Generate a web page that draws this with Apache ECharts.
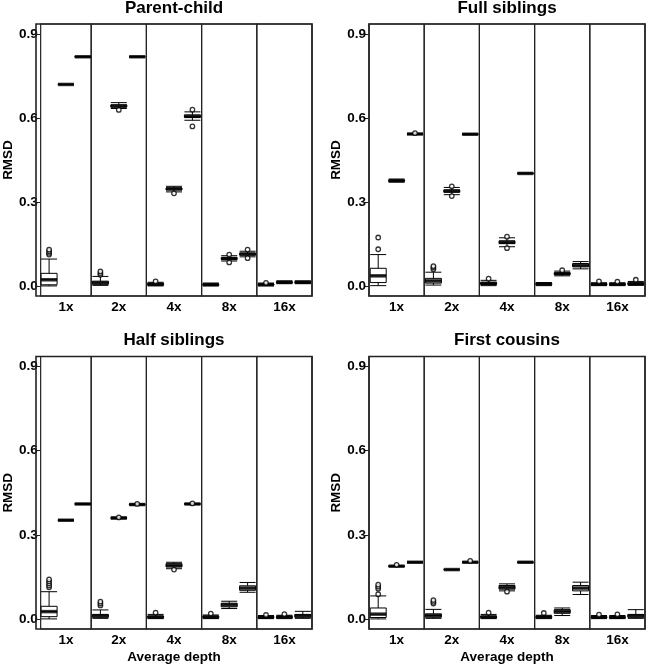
<!DOCTYPE html>
<html>
<head>
<meta charset="utf-8">
<script src="https://cdn.jsdelivr.net/npm/echarts@6/dist/echarts.min.js"></script>
<style>html,body{margin:0;padding:0;background:#fff}#chart{width:646px;height:666px}</style>
</head>
<body>
<div id="chart"></div>
<script>
const depths = ['1x', '2x', '4x', '8x', '16x'];
const methods = ['M1', 'M2', 'M3'];
const yTicks = [0, 0.3, 0.6, 0.9];
const panelTitles = ['Parent-child', 'Full siblings', 'Half siblings', 'First cousins'];
const xAxisTitle = 'Average depth';
const yAxisTitle = 'RMSD';

// box stats per depth, per method: [min, Q1, median, Q3, max]
const parentChildBoxes = [
  [[0.000,0.004,0.022,0.045,0.096],[0.719,0.720,0.720,0.720,0.721],[0.818,0.819,0.819,0.819,0.820]],
  [[0.002,0.006,0.011,0.017,0.034],[0.634,0.639,0.643,0.647,0.655],[0.818,0.819,0.819,0.819,0.820]],
  [[0.000,0.003,0.006,0.009,0.013],[0.336,0.343,0.347,0.350,0.356],[0.592,0.602,0.606,0.611,0.622]],
  [[0.000,0.002,0.005,0.007,0.010],[0.089,0.095,0.098,0.101,0.108],[0.104,0.110,0.114,0.117,0.124]],
  [[0.000,0.003,0.005,0.007,0.010],[0.008,0.011,0.013,0.015,0.018],[0.008,0.011,0.013,0.015,0.018]]
];
const parentChildOutliers = [
  [[0.112,0.118,0.124,0.130],[],[]],
  [[0.040,0.046,0.052],[0.629],[]],
  [[0.016],[0.331],[0.630,0.570]],
  [[],[0.084,0.112],[0.099,0.130]],
  [[0.011],[],[]]
];

const fullSibBoxes = [
  [[0.001,0.012,0.036,0.063,0.112],[0.371,0.374,0.376,0.378,0.382],[0.541,0.542,0.543,0.543,0.544]],
  [[0.003,0.010,0.018,0.027,0.049],[0.326,0.335,0.339,0.343,0.352],[0.541,0.542,0.542,0.543,0.543]],
  [[0.001,0.005,0.009,0.013,0.020],[0.140,0.151,0.156,0.161,0.172],[0.401,0.402,0.402,0.403,0.403]],
  [[0.001,0.004,0.007,0.009,0.012],[0.036,0.041,0.044,0.047,0.053],[0.061,0.068,0.074,0.080,0.087]],
  [[0.001,0.004,0.006,0.008,0.011],[0.001,0.004,0.006,0.008,0.011],[0.002,0.005,0.008,0.011,0.016]]
];
const fullSibOutliers = [
  [[0.131,0.173],[],[0.546]],
  [[0.060,0.066,0.071],[0.321,0.356],[]],
  [[0.026],[0.135,0.176],[]],
  [[],[0.056],[]],
  [[0.016],[0.015],[0.022]]
];

const halfSibBoxes = [
  [[0.000,0.008,0.026,0.045,0.097],[0.351,0.352,0.352,0.352,0.353],[0.409,0.410,0.410,0.410,0.411]],
  [[0.002,0.006,0.011,0.016,0.032],[0.357,0.359,0.360,0.361,0.363],[0.406,0.407,0.408,0.409,0.410]],
  [[0.001,0.004,0.007,0.010,0.016],[0.179,0.185,0.191,0.197,0.202],[0.409,0.410,0.410,0.410,0.411]],
  [[0.001,0.004,0.007,0.010,0.014],[0.037,0.043,0.050,0.056,0.063],[0.095,0.102,0.110,0.118,0.130]],
  [[0.001,0.004,0.006,0.008,0.012],[0.001,0.004,0.007,0.009,0.013],[0.002,0.006,0.011,0.016,0.027]]
];
const halfSibOutliers = [
  [[0.113,0.120,0.127,0.134,0.141],[],[]],
  [[0.048,0.055,0.062],[0.362],[0.410]],
  [[0.022],[0.176],[0.412]],
  [[0.019],[],[]],
  [[0.014],[0.017],[]]
];

const firstCousinBoxes = [
  [[0.000,0.005,0.017,0.039,0.082],[0.187,0.188,0.188,0.188,0.189],[0.201,0.202,0.202,0.202,0.203]],
  [[0.002,0.006,0.012,0.018,0.034],[0.175,0.176,0.176,0.176,0.177],[0.201,0.202,0.202,0.202,0.203]],
  [[0.001,0.004,0.007,0.010,0.016],[0.100,0.106,0.113,0.119,0.125],[0.201,0.202,0.202,0.202,0.203]],
  [[0.001,0.004,0.007,0.009,0.013],[0.012,0.020,0.027,0.033,0.039],[0.087,0.100,0.110,0.119,0.131]],
  [[0.001,0.004,0.006,0.008,0.012],[0.001,0.004,0.006,0.008,0.012],[0.002,0.006,0.011,0.016,0.033]]
];
const firstCousinOutliers = [
  [[0.088,0.108,0.115,0.122],[0.193],[]],
  [[0.055,0.061,0.067],[],[0.207]],
  [[0.022],[0.097],[]],
  [[0.021],[],[]],
  [[0.015],[0.016],[]]
];

const allBoxes = [parentChildBoxes, fullSibBoxes, halfSibBoxes, firstCousinBoxes];
const allOutliers = [parentChildOutliers, fullSibOutliers, halfSibOutliers, firstCousinOutliers];

// layout
const FONT = '"Liberation Sans", Arial, Helvetica, sans-serif';
const panels = [
  { left: 36, top: 24, height: 272, bottomAxisTitle: false },
  { left: 369, top: 24, height: 272, bottomAxisTitle: false },
  { left: 36, top: 356.5, height: 272.5, bottomAxisTitle: true },
  { left: 369, top: 356.5, height: 272.5, bottomAxisTitle: true }
];
const PANEL_W = 276;
const SUB_W = PANEL_W / depths.length;
const Y_MIN = -0.036, Y_MAX = 0.936;

const grids = [], xAxes = [], yAxes = [], series = [], graphics = [];
panels.forEach((p, pi) => {
  depths.forEach((d, di) => {
    const k = grids.length;
    grids.push({
      left: p.left + di * SUB_W, top: p.top, width: SUB_W, height: p.height,
      show: true, borderColor: '#222', borderWidth: 1.2, backgroundColor: 'transparent'
    });
    xAxes.push({
      gridIndex: k, type: 'category', data: methods, boundaryGap: true,
      axisLine: { show: false }, axisTick: { show: false }, axisLabel: { show: false },
      splitLine: { show: false },
      name: d, nameLocation: 'middle', nameGap: 4,
      nameTextStyle: { fontFamily: FONT, fontWeight: 'bold', fontSize: 13.5, color: '#000', verticalAlign: 'top' }
    });
    const first = di === 0;
    yAxes.push({
      gridIndex: k, type: 'value', min: Y_MIN, max: Y_MAX,
      splitLine: { show: false },
      axisLine: { show: false },
      axisTick: { show: first, length: 4, inside: false, customValues: yTicks, lineStyle: { color: '#222', width: 1 } },
      axisLabel: { show: first, customValues: yTicks, margin: 3, formatter: v => v.toFixed(1),
        fontFamily: FONT, fontWeight: 'bold', fontSize: 13.5, color: '#000' },
      name: first ? yAxisTitle : '', nameLocation: 'middle', nameRotate: 90, nameGap: 24,
      nameTextStyle: { fontFamily: FONT, fontWeight: 'bold', fontSize: 13.5, color: '#000' }
    });
    const boxes = allBoxes[pi][di];
    series.push({
      type: 'boxplot', xAxisIndex: k, yAxisIndex: k, boxWidth: [16, 16],
      itemStyle: { color: '#fff', borderColor: '#000', borderWidth: 1 },
      emphasis: { disabled: true }, silent: true, animation: false,
      data: boxes
    });
    series.push({
      type: 'scatter', xAxisIndex: k, yAxisIndex: k, symbol: 'rect', symbolSize: [16, 3.5],
      itemStyle: { color: '#000' }, silent: true, animation: false, z: 3,
      data: boxes.map((b, mi) => [mi, b[2]])
    });
    const outs = [];
    allOutliers[pi][di].forEach((arr, mi) => arr.forEach(v => outs.push([mi, v])));
    series.push({
      type: 'scatter', xAxisIndex: k, yAxisIndex: k, symbol: 'circle', symbolSize: 4.5,
      itemStyle: { color: '#fff', borderColor: '#000', borderWidth: 1.3 },
      silent: true, animation: false, z: 4,
      data: outs
    });
  });
  // outer panel frame
  graphics.push({
    type: 'rect', shape: { x: p.left, y: p.top, width: PANEL_W, height: p.height },
    style: { fill: 'none', stroke: '#222', lineWidth: 1.6 }, silent: true, z: 10
  });
  graphics.push({
    type: 'text', x: p.left + PANEL_W / 2, y: p.top - 16,
    style: { text: panelTitles[pi], font: 'bold 17px ' + FONT, fill: '#000', textAlign: 'center', textVerticalAlign: 'middle' }
  });
  if (p.bottomAxisTitle) {
    graphics.push({
      type: 'text', x: p.left + PANEL_W / 2, y: 657,
      style: { text: xAxisTitle, font: 'bold 13.5px ' + FONT, fill: '#000', textAlign: 'center', textVerticalAlign: 'middle' }
    });
  }
});

const chart = echarts.init(document.getElementById('chart'), null, { renderer: 'canvas' });
chart.setOption({
  animation: false,
  backgroundColor: '#fff',
  grid: grids, xAxis: xAxes, yAxis: yAxes, series: series,
  graphic: graphics
});
</script>
</body>
</html>
